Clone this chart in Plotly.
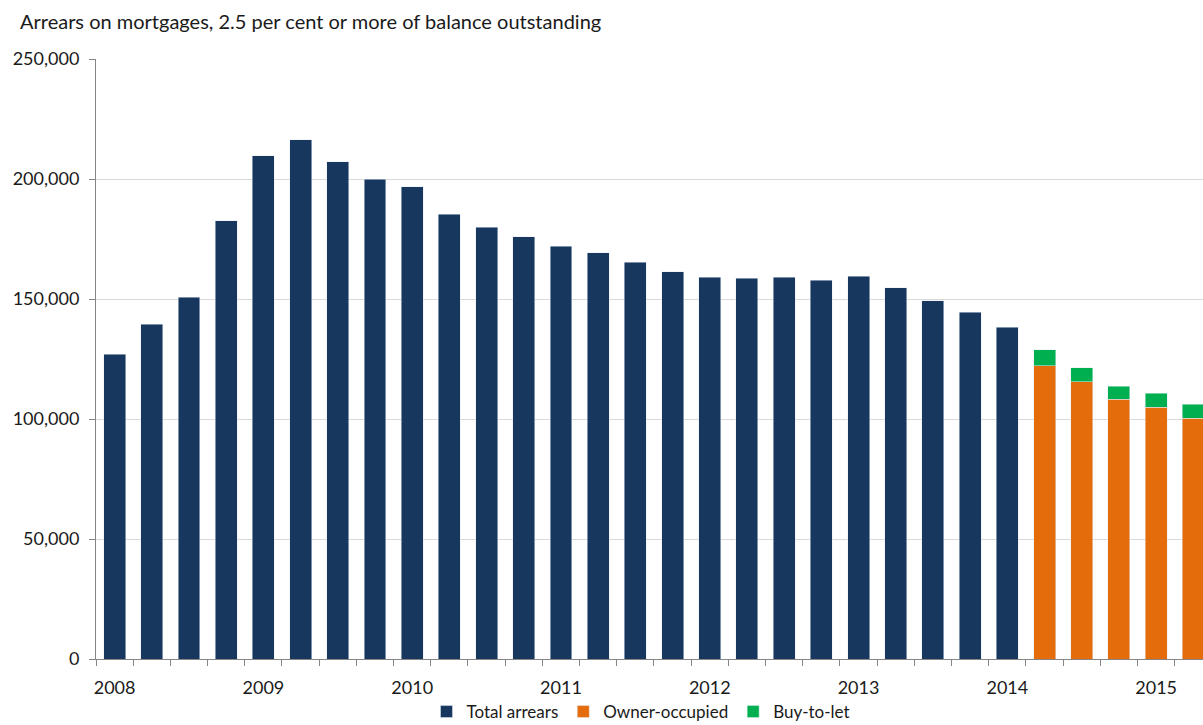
import plotly.graph_objects as go

# Quarterly series, 2008 Q1 to 2015 Q2
quarters = [f"{y} Q{q}" for y in range(2008, 2016) for q in range(1, 5)][:30]

total_arrears = [127.0, 139.4, 150.8, 182.6, 209.6, 216.3, 207.2, 199.9, 196.7, 185.3,
                 179.9, 176.0, 172.0, 169.2, 165.3, 161.4, 159.0, 158.6, 159.0, 157.8,
                 159.5, 154.7, 149.2, 144.4, 138.2]
owner_occupied = [122.2, 115.6, 108.2, 105.0, 100.4]
buy_to_let = [6.7, 5.8, 5.4, 5.8, 5.7]

y_ticks = [0, 50000, 100000, 150000, 200000, 250000]

n_total = len(total_arrears)
x_total = list(range(n_total))
x_split = list(range(n_total, n_total + len(owner_occupied)))

year_pos = [i for i, q in enumerate(quarters) if q.endswith("Q1")]
year_txt = [quarters[i][:4] for i in year_pos]

NAVY = "#17375E"
ORANGE = "#E46C0A"
GREEN = "#00B050"
FONT = "Lato, Carlito, Calibri, sans-serif"
TEXT = "#1a1a1a"

fig = go.Figure()
fig.add_bar(x=x_total, y=[v * 1000 for v in total_arrears], name="Total arrears",
            marker_color=NAVY)
fig.add_bar(x=x_split, y=[v * 1000 for v in owner_occupied], name="Owner-occupied",
            marker_color=ORANGE)
fig.add_bar(x=x_split, y=[v * 1000 for v in buy_to_let], name="Buy-to-let",
            marker_color=GREEN)

fig.update_layout(
    width=1203, height=725,
    barmode="stack", bargap=0.41,
    paper_bgcolor="white", plot_bgcolor="white",
    margin=dict(l=96, r=0, t=59, b=66, autoexpand=False),
    font=dict(family=FONT, size=18, color=TEXT),
    title=dict(text="Arrears on mortgages, 2.5 per cent or more of balance outstanding",
               xref="container", x=20 / 1203, xanchor="left",
               yref="container", y=1 - 22 / 725, yanchor="middle",
               font=dict(family=FONT, size=20, color=TEXT)),
    showlegend=True,
    legend=dict(orientation="h", x=641 / 1203, xref="container", xanchor="center",
                y=1 - 712 / 725, yref="container", yanchor="middle",
                font=dict(family=FONT, size=17, color=TEXT),
                itemwidth=30, traceorder="normal", tracegroupgap=0),
)

fig.update_xaxes(
    range=[-0.5, 29.26],
    tickmode="array", tickvals=year_pos, ticktext=year_txt,
    ticks="", showgrid=False, zeroline=False,
    showline=True, linecolor="#868686", linewidth=1,
    ticklabelstandoff=12,
    tickfont=dict(family=FONT, size=18, color=TEXT),
    minor=dict(tickmode="array", tickvals=[i - 0.5 for i in range(len(quarters) + 1)],
               ticks="outside", ticklen=6, tickcolor="#868686", tickwidth=1, showgrid=False),
)
fig.update_yaxes(
    range=[0, 250000],
    tickmode="array", tickvals=y_ticks, tickformat=",d",
    showgrid=True, gridcolor="#D9D9D9", gridwidth=1,
    zeroline=False, showline=True, linecolor="#868686", linewidth=1,
    ticks="outside", ticklen=6, tickcolor="#868686",
    ticklabelstandoff=6,
    tickfont=dict(family=FONT, size=18, color=TEXT),
)

fig.write_html("out.html")
